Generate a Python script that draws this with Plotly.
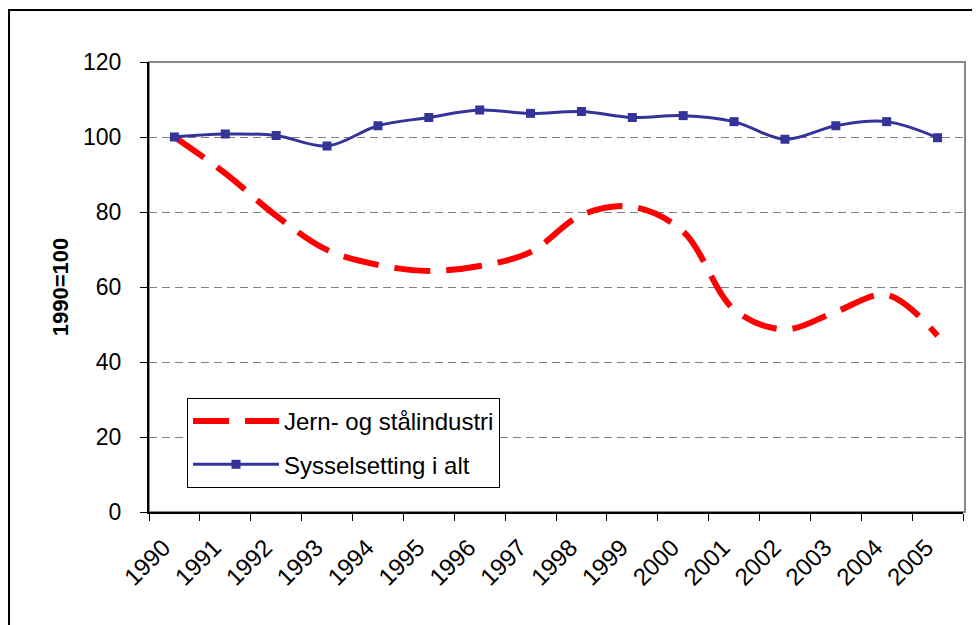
import plotly.graph_objects as go

years = [str(y) for y in range(1990, 2006)]
jern_stal = [100, 90.3, 79.0, 69.9, 65.9, 64.3, 65.6, 69.3, 79.2, 81.4, 74.8, 54.0, 48.7, 53.4, 57.9, 47.0]
sysselsetting = [100, 100.8, 100.4, 97.6, 103.0, 105.2, 107.2, 106.3, 106.8, 105.2, 105.7, 104.1, 99.4, 103.0, 104.1, 99.8]
y_ticks = [0, 20, 40, 60, 80, 100, 120]

OFF = 8  # page body margin
W, H = 980 - OFF, 625 - OFF
L, T = 149 - OFF, 62 - OFF
R = W - (963 - OFF)
B = H - (512 - OFF)
pw, ph = W - L - R, H - T - B

def px_x(p):
    return (p - OFF - L) / pw

def px_y(p):
    return (H - B - (p - OFF)) / ph

FONT = "Arial, Liberation Sans, sans-serif"

fig = go.Figure()
fig.add_trace(go.Scatter(
    x=years, y=jern_stal, name="Jern- og stålindustri", mode="lines",
    line=dict(color="#FF0000", width=6, dash="36px,16px", shape="spline", smoothing=1.0),
    legendgroup="a",
))
fig.add_trace(go.Scatter(
    x=years, y=sysselsetting, name="Sysselsetting i alt", mode="lines+markers",
    line=dict(color="#333399", width=3, shape="spline", smoothing=1.0),
    marker=dict(symbol="square", size=9, color="#333399", line=dict(width=0)),
    legendgroup="b",
))

fig.update_layout(
    width=W, height=H,
    margin=dict(l=L, r=R, t=T, b=B, autoexpand=False),
    paper_bgcolor="white", plot_bgcolor="white",
    font=dict(family=FONT, color="black", size=23),
    showlegend=True,
    legend=dict(
        x=px_x(187), y=px_y(398), xanchor="left", yanchor="top",
        bgcolor="white", bordercolor="black", borderwidth=1,
        font=dict(family=FONT, size=24, color="black"),
        tracegroupgap=9, traceorder="grouped", itemwidth=86,
    ),
    xaxis=dict(
        type="category", range=[-0.5, 15.5], tickson="boundaries",
        showgrid=False, showline=True, linecolor="black", linewidth=2,
        ticks="outside", ticklen=7, tickcolor="black", tickwidth=1,
        tickangle=-45, tickfont=dict(family=FONT, size=24),
        ticklabelshift=-11, ticklabelstandoff=10,
        automargin=False, zeroline=False,
    ),
    yaxis=dict(
        range=[0, 120], tickvals=y_ticks, showgrid=True,
        gridcolor="#808080", gridwidth=1, griddash="8px,5px",
        showline=True, linecolor="black", linewidth=2,
        ticks="outside", ticklen=7, tickcolor="black", tickwidth=1,
        tickfont=dict(family=FONT, size=23), ticklabelstandoff=14,
        zeroline=False, automargin=False,
        title=dict(text="<b>1990=100</b>", font=dict(family=FONT, size=22), standoff=8),
    ),
    shapes=[
        dict(type="rect", xref="paper", yref="paper", x0=0, x1=px_x(965), y0=0, y1=1,
             line=dict(color="#888888", width=2), layer="below"),
        dict(type="rect", xref="paper", yref="paper", x0=px_x(9), x1=px_x(1000),
             y0=px_y(660), y1=px_y(10), line=dict(color="black", width=2), layer="above"),
    ],
)

fig.write_html("out.html")
